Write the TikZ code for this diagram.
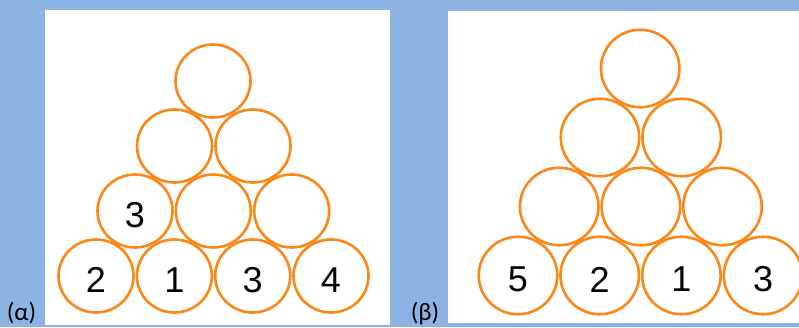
\documentclass[tikz,border=0pt]{standalone}
\usepackage{fontspec}
\setmainfont{Liberation Sans}
\newfontfamily\labelfont{Carlito}
\usetikzlibrary{shapes.geometric}
\definecolor{bgblue}{RGB}{141,179,226}
\definecolor{ring}{RGB}{252,134,22}
\begin{document}
\begin{tikzpicture}[x=1pt,y=-1pt,
  ballA/.style={ellipse, draw=ring, line width=2.6pt, minimum width=75pt, minimum height=73pt, inner sep=0pt},
  ballB/.style={ellipse, draw=ring, line width=2.6pt, minimum width=78.5pt, minimum height=77.5pt, inner sep=0pt},
  digit/.style={font=\fontsize{36}{36}\selectfont, text=black, inner sep=0pt, yshift=-4pt},
  tag/.style={font=\labelfont\fontsize{25}{30}\selectfont, anchor=base, inner sep=0pt}]
\fill[bgblue] (0,0) rectangle (799,327);
\useasboundingbox (0,0) rectangle (799,327);
\fill[white] (45,10) rectangle (390,324.5);
\fill[white] (448,11) rectangle (799,323);
% panel alpha
\node[ballA] (a11) at (213,81) {};
\node[ballA] (a21) at (174.5,146) {};
\node[ballA] (a22) at (253,146) {};
\node[ballA] (a31) at (135,211) {};
\node[ballA] (a32) at (213.3,211) {};
\node[ballA] (a33) at (291.7,211) {};
\node[ballA] (a41) at (96,276) {};
\node[ballA] (a42) at (174.4,276) {};
\node[ballA] (a43) at (252.7,276) {};
\node[ballA] (a44) at (331,276) {};
\node[digit] (ta31) at (a31.center) {3};
\node[digit] (ta41) at (a41.center) {2};
\node[digit] (ta42) at (a42.center) {1};
\node[digit] (ta43) at (a43.center) {3};
\node[digit] (ta44) at (a44.center) {4};
% panel beta
\node[ballB] (b11) at (640.2,68.5) {};
\node[ballB] (b21) at (600,137.5) {};
\node[ballB] (b22) at (681.7,137.5) {};
\node[ballB] (b31) at (559.2,206.5) {};
\node[ballB] (b32) at (640.9,206.5) {};
\node[ballB] (b33) at (722.5,206.5) {};
\node[ballB] (b41) at (518,275.5) {};
\node[ballB] (b42) at (599.7,275.5) {};
\node[ballB] (b43) at (681.4,275.5) {};
\node[ballB] (b44) at (763.1,275.5) {};
\node[digit] (tb41) at (b41.center) {5};
\node[digit] (tb42) at (b42.center) {2};
\node[digit] (tb43) at (b43.center) {1};
\node[digit] (tb44) at (b44.center) {3};
% labels
\node[tag] (la) at (21.5,320) {(α)};
\node[tag] (lb) at (425,320) {(β)};
\end{tikzpicture}
\end{document}
